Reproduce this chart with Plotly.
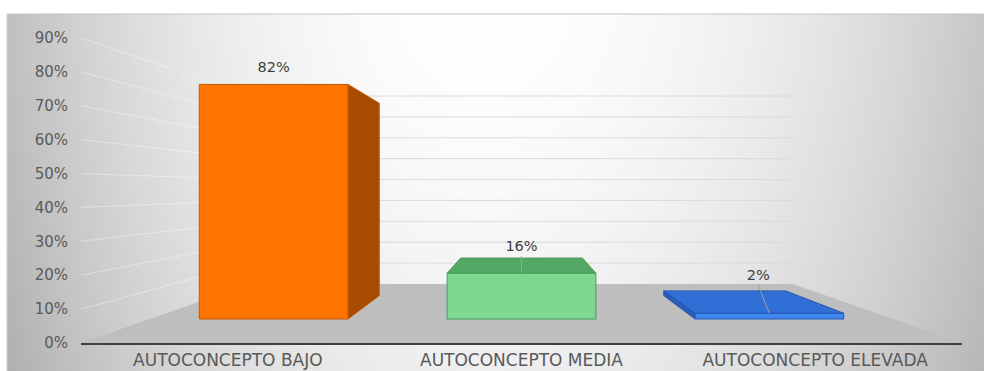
import base64
import struct
import zlib

import numpy as np
import plotly.graph_objects as go

# ---- data -------------------------------------------------------------
categories = ["AUTOCONCEPTO BAJO", "AUTOCONCEPTO MEDIA", "AUTOCONCEPTO ELEVADA"]
values = [0.82, 0.16, 0.02]
value_labels = ["82%", "16%", "2%"]
tick_values = [0.0, 0.1, 0.2, 0.3, 0.4, 0.5, 0.6, 0.7, 0.8, 0.9]
tick_labels = ["0%", "10%", "20%", "30%", "40%", "50%", "60%", "70%", "80%", "90%"]

# ---- styles -----------------------------------------------------------
front_colors = ["#FF7300", "#7ED891", "#3E86F0"]
top_colors = ["#D86200", "#52A864", "#2F6FD6"]
side_colors = ["#A64B00", "#4E9E5E", "#2A5CB8"]
edge_colors = ["#C45800", "#4A9A58", "#2456B0"]
label_lift_px = [16, 26, 37]
label_shift_px = [0, 0, -11]
draw_leader = [False, True, True]

FONT = "DejaVu Sans"
W, H = 984, 371
M_L, M_R, M_T, M_B = 81, 22, 14, 28
PLOT_W = W - M_L - M_R
PLOT_H = H - M_T - M_B
PX_PER_X = PLOT_W / 3
PX_PER_Y = 338.9                    # pixels per 100 %
Y_TOP = PLOT_H / PX_PER_Y

# perspective: vanishing point and depth ratios of each plane
VX, VY = 1.5, 0.454
R_FRONT, R_BACK, R_WALL = 0.844, 0.692, 0.616
BAR_W = 0.6


def proj(x, y, r):
    return VX + r * (x - VX), VY + r * (y - VY)


def poly(points, fill, edge, width=1.0):
    xs = [p[0] for p in points] + [points[0][0]]
    ys = [p[1] for p in points] + [points[0][1]]
    return go.Scatter(x=xs, y=ys, mode="lines", fill="toself", fillcolor=fill,
                      line=dict(color=edge, width=width), hoverinfo="skip",
                      showlegend=False)


def line(p0, p1, color, width=1.0):
    return go.Scatter(x=[p0[0], p1[0]], y=[p0[1], p1[1]], mode="lines",
                      line=dict(color=color, width=width), hoverinfo="skip",
                      showlegend=False)


# ---- soft grey background as a small png ------------------------------
def background_png(w=240, h=90):
    px = 7 + (np.arange(w) + 0.5) / w * 977
    py = 14 + (np.arange(h) + 0.5) / h * 357
    gx, gy = np.meshgrid(px, py)
    left = gx < 480
    d = np.where(left, (gx - 480) / 470, (gx - 480) / 505)
    amp = np.where(left, 62, 56)
    v = 255 - amp * d ** 2 - 16 * ((gy - 14) / 357) ** 1.5
    img = np.clip(v, 0, 255).astype(np.uint8)
    raw = b"".join(b"\x00" + img[j].tobytes() for j in range(h))

    def chunk(tag, data):
        c = struct.pack(">I", len(data)) + tag + data
        return c + struct.pack(">I", zlib.crc32(tag + data) & 0xFFFFFFFF)

    png = b"\x89PNG\r\n\x1a\n"
    png += chunk(b"IHDR", struct.pack(">IIBBBBB", w, h, 8, 0, 0, 0, 0))
    png += chunk(b"IDAT", zlib.compress(raw, 9))
    png += chunk(b"IEND", b"")
    return "data:image/png;base64," + base64.b64encode(png).decode()


fig = go.Figure()

# floor
n = len(categories)
fig.add_trace(poly([proj(0, 0, 1), proj(n, 0, 1), proj(n, 0, R_WALL), proj(0, 0, R_WALL)],
                   "#BEBEBE", "rgba(0,0,0,0)", 0))

# gridlines on the back wall and the left side wall
for t in tick_values[1:]:
    fig.add_trace(line(proj(0, t, R_WALL), proj(n, t, R_WALL), "#DADADA", 1))
    fig.add_trace(line(proj(0, t, 1), proj(0, t, R_WALL), "rgba(255,255,255,0.4)", 1))

# 3D bars
for i, v in enumerate(values):
    xl, xr = i + 0.5 - BAR_W / 2, i + 0.5 + BAR_W / 2
    if xr < VX:
        fig.add_trace(poly([proj(xr, 0, R_FRONT), proj(xr, v, R_FRONT),
                            proj(xr, v, R_BACK), proj(xr, 0, R_BACK)],
                           side_colors[i], edge_colors[i]))
    if xl > VX:
        fig.add_trace(poly([proj(xl, 0, R_FRONT), proj(xl, v, R_FRONT),
                            proj(xl, v, R_BACK), proj(xl, 0, R_BACK)],
                           side_colors[i], edge_colors[i]))
    if v < VY:
        fig.add_trace(poly([proj(xl, v, R_FRONT), proj(xr, v, R_FRONT),
                            proj(xr, v, R_BACK), proj(xl, v, R_BACK)],
                           top_colors[i], edge_colors[i]))
    fig.add_trace(poly([proj(xl, 0, R_FRONT), proj(xr, 0, R_FRONT),
                        proj(xr, v, R_FRONT), proj(xl, v, R_FRONT)],
                       front_colors[i], edge_colors[i]))

# value labels (with leader lines where the label sits away from its bar)
lab_x, lab_y = [], []
for i, v in enumerate(values):
    cx, top_y = proj(i + 0.5, v, R_FRONT)
    lx = cx + label_shift_px[i] / PX_PER_X
    ly = top_y + label_lift_px[i] / PX_PER_Y
    lab_x.append(lx)
    lab_y.append(ly)
    if draw_leader[i]:
        fig.add_trace(line((lx, ly - 9 / PX_PER_Y), (cx, top_y), "#A0A0A0", 1))

fig.add_trace(go.Scatter(x=lab_x, y=lab_y, mode="text", text=value_labels,
                         textposition="middle center", cliponaxis=False,
                         textfont=dict(family=FONT, size=14.5, color="#404040"),
                         hoverinfo="skip", showlegend=False))

fig.update_layout(
    width=W, height=H,
    margin=dict(l=M_L, r=M_R, t=M_T, b=M_B, autoexpand=False),
    paper_bgcolor="white",
    plot_bgcolor="rgba(0,0,0,0)",
    showlegend=False,
    images=[dict(source=background_png(), xref="paper", yref="paper",
                 x=(7 - M_L) / PLOT_W, y=1, sizex=977 / PLOT_W, sizey=357 / PLOT_H,
                 xanchor="left", yanchor="top", sizing="stretch", layer="below")],
    shapes=[
        dict(type="line", xref="paper", yref="paper", x0=(7 - M_L) / PLOT_W, x1=(W - M_L) / PLOT_W,
             y0=1, y1=1, line=dict(color="#C4C4C4", width=1)),
        dict(type="line", xref="paper", yref="paper", x0=(7 - M_L) / PLOT_W, x1=(7 - M_L) / PLOT_W,
             y0=1, y1=(M_B * -1 - 2) / PLOT_H, line=dict(color="#D0D0D0", width=1)),
    ],
    xaxis=dict(range=[0, n], tickvals=[i + 0.5 for i in range(n)], ticktext=categories,
               ticks="", showgrid=False, zeroline=False, showline=True,
               linecolor="#404040", linewidth=2, ticklabelstandoff=1,
               tickfont=dict(family=FONT, size=17, color="#595959"), fixedrange=True),
    yaxis=dict(range=[0, Y_TOP], tickvals=tick_values, ticktext=tick_labels,
               ticks="", showgrid=False, zeroline=False, showline=False,
               ticklabelstandoff=12,
               tickfont=dict(family=FONT, size=15, color="#595959"), fixedrange=True),
)

fig.write_html("out.html")
